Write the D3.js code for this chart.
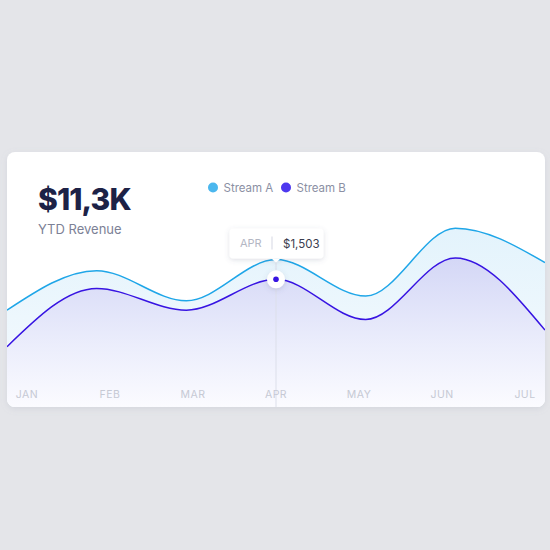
<!DOCTYPE html>
<html>
<head>
<meta charset="utf-8">
<script src="https://cdn.jsdelivr.net/npm/d3@7"></script>
<style>
  html, body { margin: 0; padding: 0; background: #e4e5e9; }
  svg { display: block; font-family: Inter, "DejaVu Sans", sans-serif; }
</style>
</head>
<body>
<svg id="chart" width="550" height="550"></svg>
<script>
"use strict";

// data
var months = ["JAN", "FEB", "MAR", "APR", "MAY", "JUN", "JUL"];
var streamA = [1140, 1605, 1250, 1735, 1305, 2105, 1700];
var streamB = [710, 1395, 1140, 1503, 1030, 1755, 905];
var seriesNames = ["Stream A", "Stream B"];
var headline = "$11,3K";
var subtitle = "YTD Revenue";
var focusIndex = 3;

var card = { x: 7, y: 152, w: 538, h: 255, r: 8 };

var svg = d3.select("#chart");
var defs = svg.append("defs");

var shadow = defs.append("filter").attr("id", "shadow")
  .attr("x", "-20%").attr("y", "-20%").attr("width", "140%").attr("height", "150%");
shadow.append("feDropShadow").attr("dx", 0).attr("dy", 2).attr("stdDeviation", 3)
  .attr("flood-color", "#8a90a8").attr("flood-opacity", 0.18);

var tipShadow = defs.append("filter").attr("id", "tipShadow")
  .attr("x", "-30%").attr("y", "-40%").attr("width", "160%").attr("height", "200%");
tipShadow.append("feDropShadow").attr("dx", 0).attr("dy", 1.5).attr("stdDeviation", 2.5)
  .attr("flood-color", "#5a6080").attr("flood-opacity", 0.2);

defs.append("clipPath").attr("id", "cardClip")
  .append("rect")
  .attr("x", card.x).attr("y", card.y)
  .attr("width", card.w).attr("height", card.h)
  .attr("rx", card.r).attr("ry", card.r);

function gradient(id, stops) {
  var g = defs.append("linearGradient").attr("id", id)
    .attr("x1", 0).attr("y1", 0).attr("x2", 0).attr("y2", 1);
  stops.forEach(function(s) {
    g.append("stop").attr("offset", s[0]).attr("stop-color", s[1]);
  });
}
gradient("fillA", [[0, "#e3f3fc"], [1, "#f7fbfe"]]);
gradient("fillB", [[0, "#d4d7f6"], [0.6, "#eceefc"], [1, "#fbfbff"]]);

// card
svg.append("rect")
  .attr("x", card.x).attr("y", card.y)
  .attr("width", card.w).attr("height", card.h)
  .attr("rx", card.r).attr("ry", card.r)
  .attr("fill", "#ffffff")
  .attr("filter", "url(#shadow)");

// scales
var x = d3.scalePoint().domain(months).range([card.x, card.x + card.w]);
var xLabel = d3.scalePoint().domain(months).range([27, 525]);
var y = d3.scaleLinear().domain([0, 1503]).range([card.y + card.h, 279.3]);

var plot = svg.append("g").attr("clip-path", "url(#cardClip)");

function areaFor(values) {
  return d3.area()
    .x(function(d, i) { return x(months[i]); })
    .y0(card.y + card.h)
    .y1(function(d) { return y(d); })
    .curve(d3.curveMonotoneX)(values);
}
function lineFor(values) {
  return d3.line()
    .x(function(d, i) { return x(months[i]); })
    .y(function(d) { return y(d); })
    .curve(d3.curveMonotoneX)(values);
}

plot.append("path").attr("d", areaFor(streamA)).attr("fill", "url(#fillA)");
plot.append("path").attr("d", areaFor(streamB)).attr("fill", "url(#fillB)");

// focus guide line
var fx = x(months[focusIndex]);
plot.append("line")
  .attr("x1", fx).attr("x2", fx)
  .attr("y1", y(streamA[focusIndex])).attr("y2", card.y + card.h)
  .attr("stroke", "#dcdfea").attr("stroke-width", 1);

plot.append("path").attr("d", lineFor(streamA))
  .attr("fill", "none").attr("stroke", "#1fa6e8").attr("stroke-width", 1.5);
plot.append("path").attr("d", lineFor(streamB))
  .attr("fill", "none").attr("stroke", "#3714e2").attr("stroke-width", 1.5);

// month labels
svg.append("g").selectAll("text")
  .data(months).enter()
  .append("text")
  .attr("x", function(d) { return xLabel(d); })
  .attr("y", 398)
  .attr("text-anchor", "middle")
  .attr("font-size", 10.5)
  .attr("letter-spacing", 0.5)
  .attr("fill", "#c6c9d4")
  .text(function(d) { return d; });

// headline
svg.append("text")
  .attr("x", 38).attr("y", 210)
  .attr("font-size", 30).attr("font-weight", 800)
  .attr("fill", "#1d2246")
  .attr("letter-spacing", -0.9)
  .text(headline);
svg.append("text")
  .attr("x", 38).attr("y", 233.5)
  .attr("font-size", 13)
  .attr("fill", "#7c8196")
  .text(subtitle);

// legend
var legendColors = ["#4bb7ee", "#4d38ef"];
var legendX = [213, 286];
var legend = svg.append("g").selectAll("g")
  .data(seriesNames).enter()
  .append("g")
  .attr("transform", function(d, i) { return "translate(" + legendX[i] + ",187.5)"; });
legend.append("circle").attr("r", 5).attr("fill", function(d, i) { return legendColors[i]; });
legend.append("text")
  .attr("x", 10.5).attr("y", 4)
  .attr("font-size", 11.5)
  .attr("fill", "#8b90a4")
  .text(function(d) { return d; });

// focus dot
var fy = y(streamB[focusIndex]);
svg.append("circle").attr("cx", fx).attr("cy", fy).attr("r", 9)
  .attr("fill", "#ffffff").attr("filter", "url(#tipShadow)");
svg.append("circle").attr("cx", fx).attr("cy", fy).attr("r", 2.8)
  .attr("fill", "#3714e2");

// tooltip
var tip = svg.append("g").attr("filter", "url(#tipShadow)");
tip.append("rect")
  .attr("x", 229.5).attr("y", 228.5)
  .attr("width", 94).attr("height", 30)
  .attr("rx", 4).attr("ry", 4)
  .attr("fill", "#ffffff");
tip.append("path")
  .attr("d", "M" + (fx - 4.5) + ",258.4L" + fx + ",262.5L" + (fx + 4.5) + ",258.4Z")
  .attr("fill", "#ffffff");
svg.append("line")
  .attr("x1", 272).attr("x2", 272).attr("y1", 236.5).attr("y2", 249.5)
  .attr("stroke", "#e3e5ec").attr("stroke-width", 1.5);
svg.append("text")
  .attr("x", 240).attr("y", 247)
  .attr("font-size", 11).attr("fill", "#b4b7c4")
  .text(months[focusIndex]);
svg.append("text")
  .attr("x", 283).attr("y", 247.5)
  .attr("font-size", 11.5).attr("fill", "#3a3d4e")
  .text(d3.format("$,")(streamB[focusIndex]));
</script>
</body>
</html>
